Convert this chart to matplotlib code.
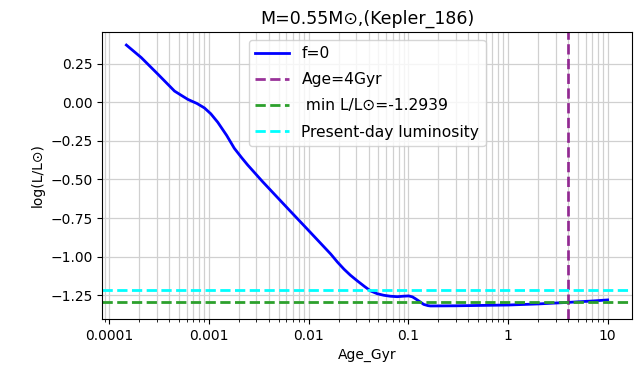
import numpy as np
import matplotlib
matplotlib.use("Agg")
import matplotlib.pyplot as plt
from matplotlib.ticker import FuncFormatter, NullFormatter

# luminosity track, f=0
age_gyr = [1.49e-4, 2.10e-4, 3.09e-4, 4.53e-4, 5.28e-4, 6.17e-4, 7.59e-4,
           9.03e-4, 1.047e-3, 1.23e-3, 1.51e-3, 1.80e-3, 2.14e-3, 2.45e-3,
           3.47e-3, 6.3e-3, 1.0e-2, 1.67e-2, 1.95e-2, 2.27e-2, 2.63e-2,
           3.09e-2, 3.63e-2, 4.2e-2, 4.9e-2, 5.7e-2, 6.6e-2, 7.76e-2,
           8.9e-2, 0.101, 0.11, 0.118, 0.132, 0.143, 0.158, 0.167,
           0.3, 1.0, 2.0, 4.0, 7.0, 10.0]
log_lum = [0.37, 0.289, 0.181, 0.072, 0.045, 0.018, -0.008,
           -0.037, -0.075, -0.13, -0.215, -0.298, -0.36, -0.406,
           -0.515, -0.693, -0.83, -0.983, -1.035, -1.081, -1.12,
           -1.157, -1.192, -1.222, -1.24, -1.25, -1.256, -1.259,
           -1.256, -1.254, -1.26, -1.272, -1.293, -1.309, -1.317, -1.319,
           -1.318, -1.313, -1.306, -1.296, -1.287, -1.28]

age_now = 4
min_lum = -1.2939
present_lum = -1.217

fig = plt.figure(figsize=(6.37, 3.76), dpi=100)
ax = fig.add_axes([0.1606, 0.1516, 0.8311, 0.7633])

ax.plot(age_gyr, log_lum, color='blue', lw=2, label='f=0')
ax.axvline(age_now, color='purple', alpha=0.8, ls='--', lw=2, label='Age=4Gyr')
ax.axhline(min_lum, color='tab:green', ls='--', lw=2, label=' min L/L\u2299=-1.2939')
ax.axhline(present_lum, color='cyan', ls='--', lw=2, label='Present-day luminosity')

ax.set_xscale('log')
ax.xaxis.set_major_formatter(FuncFormatter(lambda v, p: '{:g}'.format(v)))
ax.xaxis.set_minor_formatter(NullFormatter())
ax.grid(True, which='both', color='#d0d0d0', lw=0.9)

ax.set_xlabel('Age_Gyr')
ax.set_ylabel('log(L/L\u2299)')
ax.set_title('M=0.55M\u2299,(Kepler_186)', fontsize=12.5)
ax.legend(loc='upper center', fontsize=11.2, labelspacing=0.72, handlelength=2.2)

fig.savefig('out.png', dpi=100)
